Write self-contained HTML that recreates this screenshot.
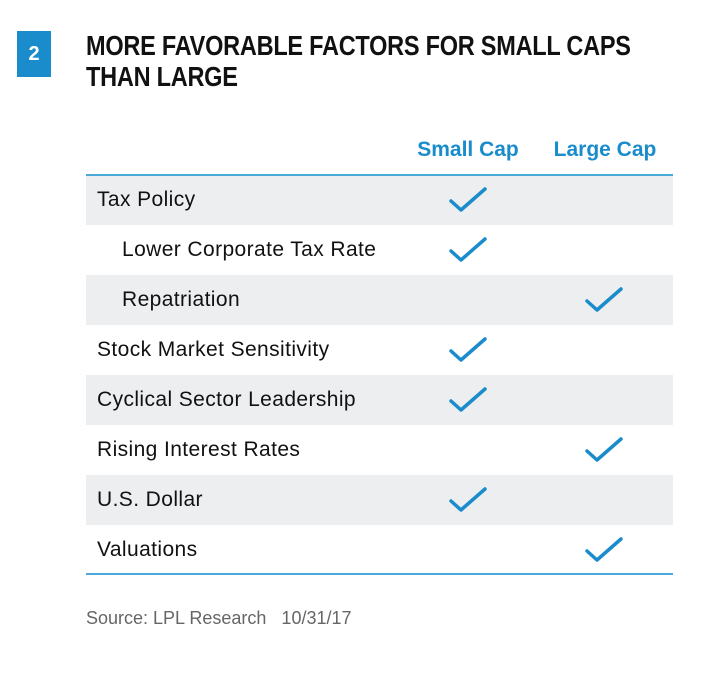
<!DOCTYPE html>
<html><head><meta charset="utf-8"><style>
body{margin:0;width:728px;height:681px;background:#fff;position:relative;overflow:hidden;font-family:"Liberation Sans",sans-serif}
.abs{position:absolute}
.badge{left:17px;top:31px;width:34px;height:46px;background:#1a8ccc;color:#fff;font-weight:bold;font-size:20px;text-align:center;line-height:46px}
.title{left:86px;top:30px;font-weight:bold;font-size:28px;line-height:31px;color:#111;letter-spacing:-0.3px;transform:scaleX(0.84);transform-origin:0 0;white-space:nowrap}
.hdr{top:138px;font-weight:bold;font-size:21px;color:#1a8ccc;width:140px;text-align:center}
.row{left:86px;width:587px;height:50px}
.row span{position:absolute;top:13px;font-size:21px;letter-spacing:0.4px;color:#111;white-space:nowrap}
.src{left:86px;top:608px;font-size:18px;color:#666}
</style></head><body>
<div class="abs badge">2</div>
<div class="abs title">MORE FAVORABLE FACTORS FOR SMALL CAPS<br>THAN LARGE</div>
<div class="abs hdr" style="left:398px">Small Cap</div>
<div class="abs hdr" style="left:535px">Large Cap</div>
<div id="table"></div>
<div class="abs" style="left:86px;top:174px;width:587px;height:2px;background:#4aa9d6"></div>
<div class="abs" style="left:86px;top:573px;width:587px;height:2px;background:#4aa9d6"></div>
<div class="abs src">Source: LPL Research&nbsp;&nbsp;&nbsp;10/31/17</div>
<script>
const factors=["Tax Policy","Lower Corporate Tax Rate","Repatriation","Stock Market Sensitivity","Cyclical Sector Leadership","Rising Interest Rates","U.S. Dollar","Valuations"];
const indent=[0,1,1,0,0,0,0,0];
const favors=["small","small","large","small","small","large","small","large"];
const colX={small:468,large:604};
const t=document.getElementById('table');
factors.forEach((f,i)=>{
  const top=175+i*50;
  const r=document.createElement('div');
  r.className='abs row';
  r.style.top=top+'px';
  r.style.background=i%2===0?'#eceef0':'#fff';
  
  
  const s=document.createElement('span');
  s.textContent=f;
  s.style.left=(indent[i]?36:11)+'px';
  
  
  r.appendChild(s);
  t.appendChild(r);
  const cx=colX[favors[i]];
  const svg=document.createElementNS('http://www.w3.org/2000/svg','svg');
  svg.setAttribute('width','44');svg.setAttribute('height','32');
  svg.setAttribute('class','abs');
  svg.style.left=(cx-22)+'px';svg.style.top=(top+9)+'px';
  
  
  svg.innerHTML='<polyline points="5,17 15,26 39,5" fill="none" stroke="#1a8ccc" stroke-width="3.5" stroke-linecap="round" stroke-linejoin="round"/>';
  t.appendChild(svg);
});
</script>
</body></html>
